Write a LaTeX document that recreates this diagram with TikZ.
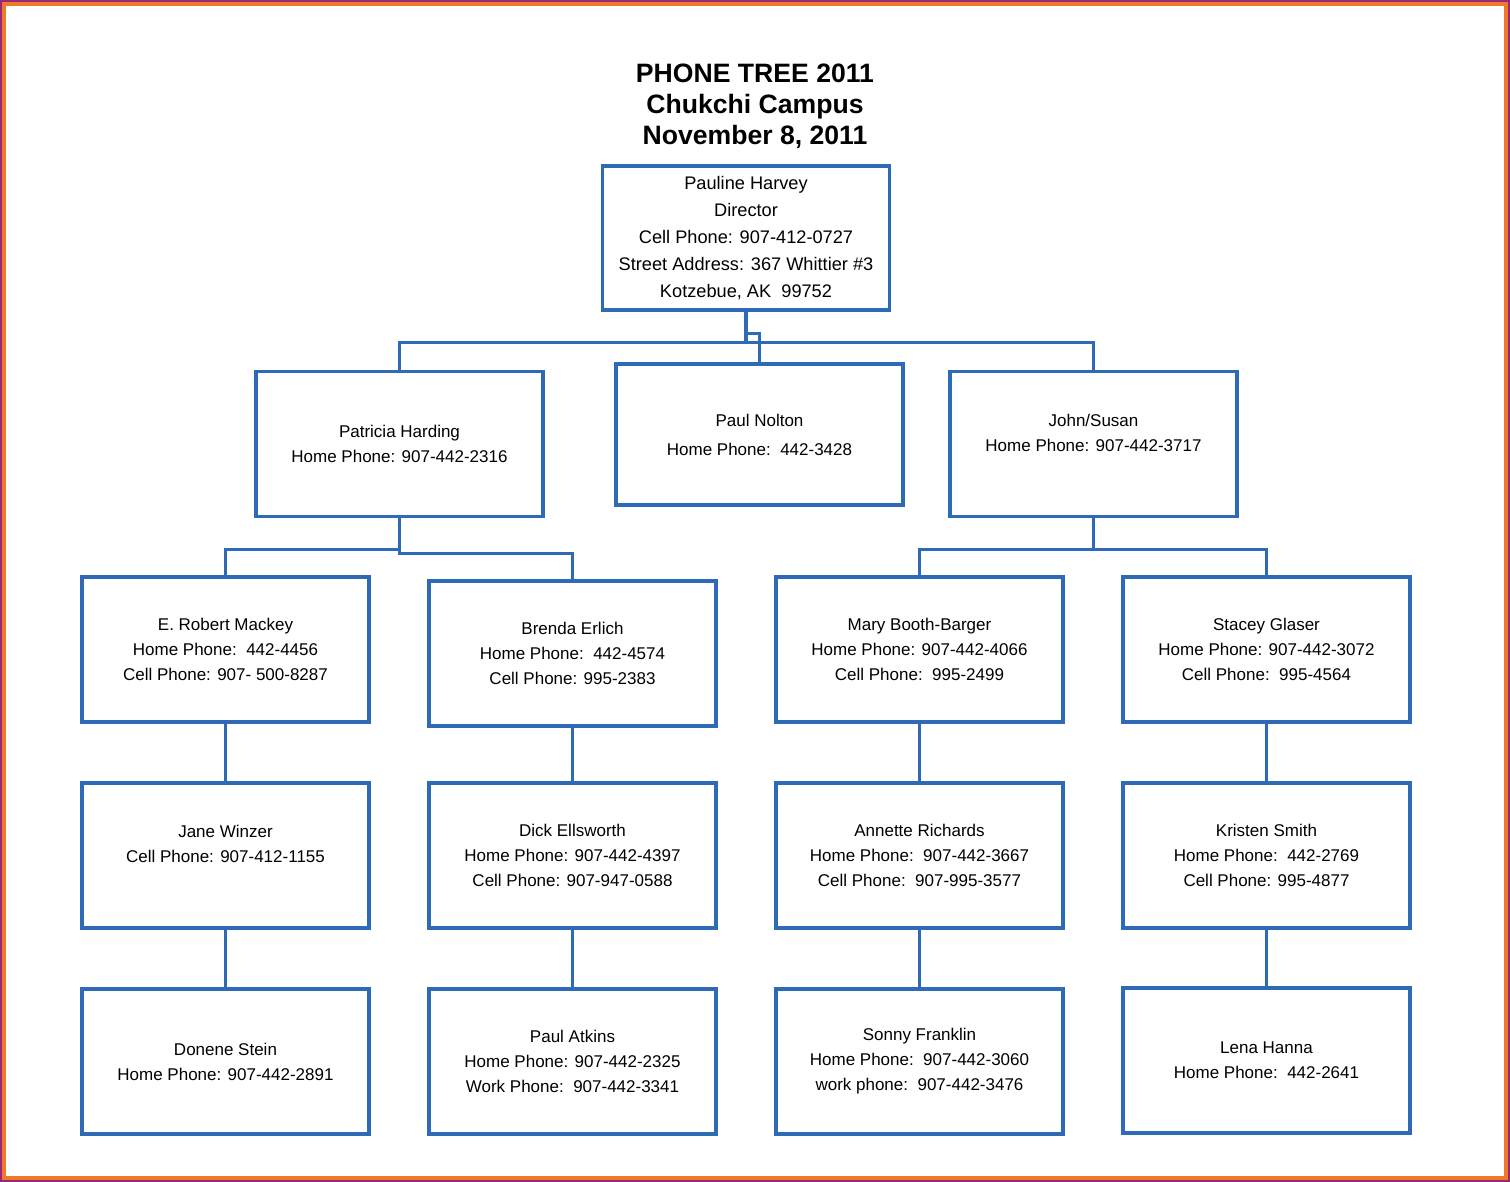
\documentclass[tikz,border=0pt]{standalone}
\usepackage{fontspec}
\setmainfont{Liberation Sans}
\definecolor{treeblue}{RGB}{46,106,182}
\definecolor{frameorange}{RGB}{240,120,40}
\definecolor{framepurple}{RGB}{150,40,120}
\begin{document}
\begin{tikzpicture}[x=0.5pt,y=-0.5pt]
    \tikzstyle{box} = [rectangle, draw=treeblue, line width=1.6pt, align=center,
        minimum width=143.5pt, minimum height=72.5pt, inner sep=0pt,
        font=\fontsize{8.5}{12.5}\selectfont]
    \tikzstyle{link} = [draw=treeblue, line width=1.6pt]

    \draw[framepurple, line width=1pt] (1,1) rectangle (1509,1181);
    \draw[frameorange, line width=2pt] (4,4) rectangle (1506,1178);

    \node(title) [align=center, font=\fontsize{13.3}{15.5}\selectfont\bfseries]
        at (755,106) {PHONE TREE 2011\\ Chukchi Campus\\ November 8, 2011};

    \node(harvey) [box, minimum height=72pt, font=\fontsize{9.1}{13.6}\selectfont]
        at (746,238) {Pauline Harvey\\ Director\\ Cell Phone: 907-412-0727\\
        Street Address: 367 Whittier \#3\\ Kotzebue, AK\ \ 99752};

    \node(harding) [box] at (399.5,444) {Patricia Harding\\ Home Phone: 907-442-2316};
    \node(nolton) [box, minimum height=70.5pt] at (759.5,434.5)
        {Paul Nolton\\[2pt] Home Phone:\ \ 442-3428};
    \node(johnsusan) [box] at (1093.5,444)
        {John/Susan\\ Home Phone: 907-442-3717\\[-1pt]\mbox{}};

    \node(mackey) [box] at (225.5,649.5)
        {E. Robert Mackey\\ Home Phone:\ \ 442-4456\\ Cell Phone: 907- 500-8287};
    \node(erlich) [box] at (572.5,653.5)
        {Brenda Erlich\\ Home Phone:\ \ 442-4574\\ Cell Phone: 995-2383};
    \node(booth) [box] at (919.5,649.5)
        {Mary Booth-Barger\\ Home Phone: 907-442-4066\\ Cell Phone:\ \ 995-2499};
    \node(glaser) [box] at (1266.5,649.5)
        {Stacey Glaser\\ Home Phone: 907-442-3072\\ Cell Phone:\ \ 995-4564};

    \node(winzer) [box] at (225.5,855.5)
        {Jane Winzer\hspace{3.5em}\\ Cell Phone: 907-412-1155\\[-1pt]\mbox{}};
    \node(ellsworth) [box] at (572.5,855.5)
        {Dick Ellsworth\\ Home Phone: 907-442-4397\\ Cell Phone: 907-947-0588};
    \node(richards) [box] at (919.5,855.5)
        {Annette Richards\\ Home Phone:\ \ 907-442-3667\\ Cell Phone:\ \ 907-995-3577};
    \node(smith) [box] at (1266.5,855.5)
        {Kristen Smith\\ Home Phone:\ \ 442-2769\\ Cell Phone: 995-4877};

    \node(stein) [box] at (225.5,1061.5)
        {Donene Stein\\ Home Phone: 907-442-2891};
    \node(atkins) [box] at (572.5,1061.5)
        {Paul Atkins\\ Home Phone: 907-442-2325\\ Work Phone:\ \ 907-442-3341};
    \node(franklin) [box] at (919.5,1061.5)
        {Sonny Franklin\\ Home Phone:\ \ 907-442-3060\\ work phone:\ \ 907-442-3476};
    \node(hanna) [box] at (1266.5,1060.5)
        {Lena Hanna\\ Home Phone:\ \ 442-2641};

    % top level
    \draw[link] (harvey.south) -- ++(0,31) -| (harding.north);
    \draw[link] (harvey.south) -- ++(0,31) -| (johnsusan.north);
    \draw[link] (harvey.south) ++(0,22) -| (nolton.north);
    % second level
    \draw[link] (harding.south) -- ++(0,31) -| (mackey.north);
    \draw[link] (harding.south) -- ++(0,35) -| (erlich.north);
    \draw[link] (johnsusan.south) -- ++(0,31) -| (booth.north);
    \draw[link] (johnsusan.south) -- ++(0,31) -| (glaser.north);
    % columns
    \draw[link] (mackey) -- (winzer);
    \draw[link] (winzer) -- (stein);
    \draw[link] (erlich) -- (ellsworth);
    \draw[link] (ellsworth) -- (atkins);
    \draw[link] (booth) -- (richards);
    \draw[link] (richards) -- (franklin);
    \draw[link] (glaser) -- (smith);
    \draw[link] (smith) -- (hanna);
\end{tikzpicture}
\end{document}
